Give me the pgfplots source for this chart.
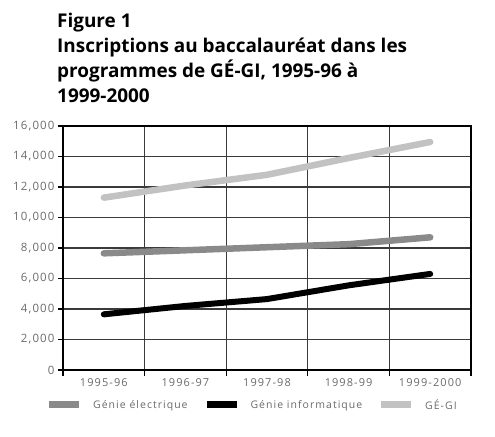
\documentclass[border=0pt]{standalone}
\usepackage{fontspec}
\setmainfont{Open Sans}
\newfontfamily\labfont[LetterSpace=10]{Open Sans}
\usepackage{pgfplots}
\pgfplotsset{compat=1.18}
\definecolor{gelec}{HTML}{8A8A8A}
\definecolor{gegi}{HTML}{C2C2C2}
\definecolor{labgray}{HTML}{6A6A6A}
\definecolor{gridgray}{HTML}{3A3A3A}

\begin{document}
\begin{tikzpicture}[x=1bp,y=1bp]
\useasboundingbox (0,0) rectangle (495,437);
\node[anchor=north west, align=left, inner sep=0pt,
      font=\fontsize{19}{25}\selectfont\bfseries] at (57,424)
  {Figure 1\\Inscriptions au baccalauréat dans les\\programmes de GÉ-GI, 1995-96 à\\1999-2000};
\begin{axis}[
    at={(63bp,67bp)}, anchor=south west,
    scale only axis, width=408bp, height=244bp,
    xmin=0, xmax=5, ymin=0, ymax=16000,
    xtick={0.5,1.5,2.5,3.5,4.5},
    xticklabels={1995-96,1996-97,1997-98,1998-99,1999-2000},
    minor xtick={0,1,2,3,4,5},
    xminorgrids,
    minor grid style={gridgray, line width=1.1bp},
    ytick={0,2000,...,16000},
    ymajorgrids,
    major grid style={gridgray, line width=1.1bp},
    major x tick style={draw=none},
    tick style={black, line width=1.1bp},
    major tick length=5bp, minor tick length=6bp,
    tick align=outside,
    xtick pos=bottom, ytick pos=left,
    scaled ticks=false,
    /pgf/number format/1000 sep={,},
    /pgf/number format/assume math mode=true,
    yticklabel style={font=\labfont\fontsize{11.5}{13}\selectfont, text=labgray},
    xticklabel style={font=\labfont\fontsize{11}{13}\selectfont, text=labgray},
    axis line style={black, line width=1.1bp},
    legend style={draw=none, at={(0.468,-0.143)}, anchor=center,
        font=\labfont\fontsize{10.5}{12}\selectfont, text=labgray,
        legend columns=3,
        /tikz/every even column/.append style={column sep=17bp},
        /tikz/every odd column/.append style={column sep=12bp}},
    legend image code/.code={\fill[#1, draw=none] (0bp,-3.5bp) rectangle (30bp,3.5bp);},
    every axis plot/.append style={line join=round, line cap=round},
]
\addplot[gelec, line width=6.5bp] coordinates {
    (0.5,7650) (1.5,7850) (2.5,8050) (3.5,8250) (4.5,8700)};
\addlegendentry{Génie électrique}
\addplot[black, line width=6bp] coordinates {
    (0.5,3650) (1.5,4200) (2.5,4650) (3.5,5550) (4.5,6300)};
\addlegendentry{Génie informatique}
\addplot[gegi, line width=6.5bp] coordinates {
    (0.5,11300) (1.5,12100) (2.5,12800) (3.5,13900) (4.5,14950)};
\addlegendentry{GÉ-GI}
\end{axis}
\end{tikzpicture}
\end{document}
